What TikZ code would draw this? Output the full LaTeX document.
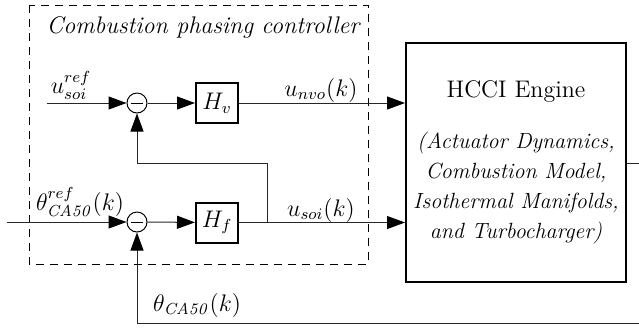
\documentclass[tikz,border=0pt]{standalone}
\usetikzlibrary{arrows.meta}
\begin{document}
\begin{tikzpicture}[x=0.5pt,y=-0.5pt, font=\fontsize{12}{15}\selectfont,
  sumnode/.style={circle,draw,line width=0.5pt,minimum size=10pt,inner sep=0pt},
  blockbox/.style={draw,line width=1pt,minimum width=21pt,minimum height=20pt,inner sep=0pt},
  sig/.style={line width=0.5pt,draw=black!85},
  arr/.style={sig,-{Triangle[length=9pt,width=6.5pt,color=black]}},
  lbl/.style={inner sep=0pt},
  ctrlbox/.style={draw,line width=0.5pt,dash pattern=on 4pt off 3pt}
  ]
\clip (0,0) rectangle (639,329);
% controller frame
\draw[ctrlbox] (29,5) rectangle (368,264);
\node[lbl] (title) at (203,27) {\itshape Combustion phasing controller};
% summing junctions
\node[sumnode] (s1) at (137,103) {};
\draw[line width=0.5pt] ([xshift=-3pt]s1.center) -- ([xshift=3pt]s1.center);
\node[sumnode] (s2) at (137,222) {};
\draw[line width=0.5pt] ([xshift=-3pt]s2.center) -- ([xshift=3pt]s2.center);
% blocks
\node[blockbox] (hv) at (217,103) {$H_v$};
\node[blockbox] (hf) at (217,222.5) {$H_f$};
% engine
\node[draw,line width=1pt,minimum width=110pt,minimum height=119.5pt,inner sep=0pt] (eng) at (516,162.5) {};
\node[lbl] (engt) at (516,92) {HCCI Engine};
\node[lbl,align=center,font=\fontsize{11}{15}\selectfont\itshape] (engs) at (516,188) {(Actuator Dynamics,\\Combustion Model,\\Isothermal Manifolds,\\and Turbocharger)};
% coordinates
\coordinate (in1) at (47,103);
\coordinate (in2) at (7,222);
\coordinate (br) at (267,222);
\coordinate (brtop) at (267,163);
\coordinate (fbr) at (700,323);
\coordinate (out) at (700,163);
% connectors
\draw[arr] (in1) -- (s1);
\draw[arr] (s1) -- (hv);
\draw[arr] (hv.east) -- (hv.east -| eng.west);
\draw[arr] (in2) -- (s2);
\draw[arr] (s2) -- (hf);
\draw[arr] (hf.east) -- (hf.east -| eng.west);
\draw[arr] (br) -- (brtop) -| (s1);
\draw[sig] (eng.east |- out) -- (out);
\draw[arr] (fbr) -| (s2);
% labels
\node[lbl] (l1) at (71,85) {$u_{soi}^{ref}$};
\node[lbl] (l2) at (80,202) {$\theta_{\mathit{CA50}}^{ref}(k)$};
\node[lbl] (l3) at (321,90) {$u_{nvo}(k)$};
\node[lbl] (l4) at (321,210) {$u_{soi}(k)$};
\node[lbl] (l5) at (197,305) {$\theta_{\mathit{CA50}}(k)$};
\end{tikzpicture}
\end{document}
